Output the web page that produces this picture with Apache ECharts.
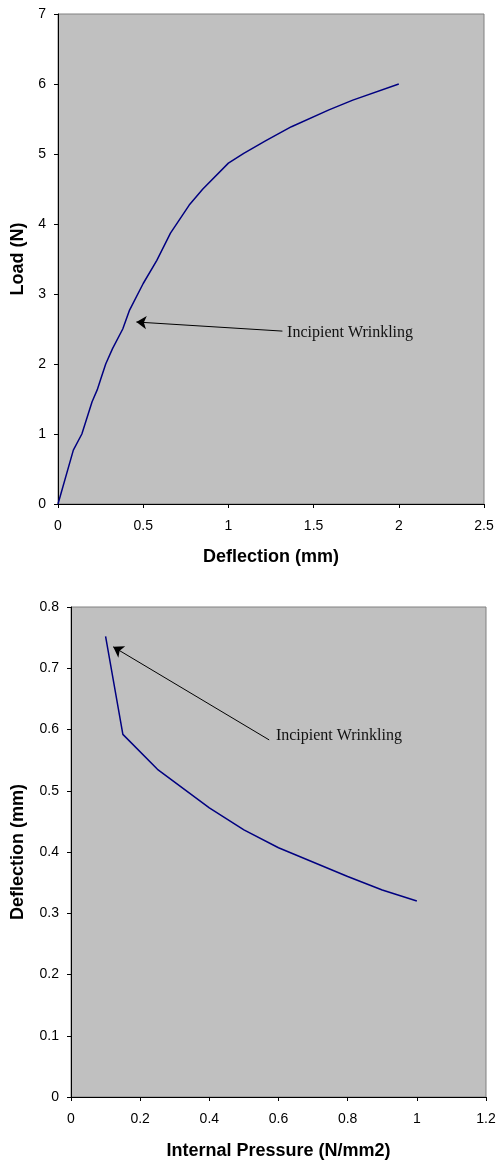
<!DOCTYPE html>
<html lang="en">
<head>
    <meta charset="UTF-8">
    <title>Load / Deflection charts</title>
    <script src="https://cdn.jsdelivr.net/npm/echarts@6.0.0/dist/echarts.min.js"></script>
    <style>
        html, body { margin: 0; padding: 0; background: #fff; }
    </style>
</head>
<body>
    <div id="myChart" style="width: 497px; height: 1162px;"></div>
    <script>
        // top chart: load vs deflection
        const topDeflection = [0, 0.09, 0.14, 0.2, 0.23, 0.25, 0.28, 0.32, 0.38, 0.42, 0.5, 0.58, 0.66, 0.77, 0.85, 1.0, 1.09, 1.22, 1.37, 1.59, 1.73, 2.0];
        const topLoad = [0, 0.77, 1.0, 1.46, 1.63, 1.78, 2.0, 2.22, 2.5, 2.77, 3.15, 3.48, 3.87, 4.27, 4.5, 4.87, 5.01, 5.19, 5.39, 5.63, 5.77, 6.0];
        const topArrow = { from: [1.317, 2.47], to: [0.46, 2.6], text: [1.315, 2.447] };

        // bottom chart: deflection vs internal pressure
        const pressure = [0.1, 0.15, 0.25, 0.4, 0.5, 0.6, 0.8, 0.9, 1.0];
        const bottomDeflection = [0.752, 0.592, 0.535, 0.472, 0.436, 0.407, 0.36, 0.338, 0.32];
        const bottomArrow = { from: [0.573, 0.583], to: [0.122, 0.735], text: [0.578, 0.59] };

        const noteText = 'Incipient Wrinkling';

        const sans = "'Liberation Sans', Arial, sans-serif";
        const serif = "'Liberation Serif', 'Times New Roman', serif";

        var myChart = echarts.init(document.getElementById('myChart'));

        function pairs(xs, ys) {
            return xs.map(function (x, i) { return [x, ys[i]]; });
        }

        function valueAxis(gridIndex, min, max, interval, name, nameGap, margin) {
            return {
                type: 'value',
                gridIndex: gridIndex,
                min: min,
                max: max,
                interval: interval,
                name: name,
                nameLocation: 'middle',
                nameGap: nameGap,
                nameTextStyle: { fontFamily: sans, fontSize: 18, fontWeight: 'bold', color: '#000' },
                axisLine: { show: true, onZero: false, lineStyle: { color: '#000', width: 1 } },
                axisTick: { show: true, inside: false, length: 4, lineStyle: { color: '#000' } },
                axisLabel: { fontFamily: sans, fontSize: 14, color: '#000', margin: margin },
                splitLine: { show: false }
            };
        }

        // arrow pointing at the onset of wrinkling
        function arrow(a) {
            return {
                silent: true,
                symbol: ['none', 'arrow'],
                symbolSize: 10,
                lineStyle: { color: '#000', width: 1, type: 'solid' },
                label: { show: false },
                data: [[{ coord: a.from }, { coord: a.to }]]
            };
        }

        // the note text next to the arrow tail
        function note(a) {
            return {
                silent: true,
                symbol: 'circle',
                symbolSize: 0,
                label: {
                    show: true,
                    position: 'right',
                    distance: 5,
                    formatter: noteText,
                    fontFamily: serif,
                    fontSize: 16,
                    color: '#111'
                },
                data: [{ coord: a.text }]
            };
        }

        option = {
            animation: false,
            backgroundColor: '#fff',
            grid: [
                { left: 58, top: 14, width: 426, height: 490, show: true, backgroundColor: '#c0c0c0', borderColor: '#808080', borderWidth: 1, outerBoundsMode: 'none' },
                { left: 71, top: 607, width: 415, height: 490, show: true, backgroundColor: '#c0c0c0', borderColor: '#808080', borderWidth: 1, outerBoundsMode: 'none' }
            ],
            xAxis: [
                valueAxis(0, 0, 2.5, 0.5, 'Deflection (mm)', 44, 15),
                valueAxis(1, 0, 1.2, 0.2, 'Internal Pressure (N/mm2)', 45, 15)
            ],
            yAxis: [
                valueAxis(0, 0, 7, 1, 'Load (N)', 30, 12),
                valueAxis(1, 0, 0.8, 0.1, 'Deflection (mm)', 44, 12)
            ],
            series: [
                {
                    type: 'line',
                    xAxisIndex: 0,
                    yAxisIndex: 0,
                    data: pairs(topDeflection, topLoad),
                    showSymbol: false,
                    lineStyle: { color: '#000080', width: 1.5 },
                    markLine: arrow(topArrow),
                    markPoint: note(topArrow)
                },
                {
                    type: 'line',
                    xAxisIndex: 1,
                    yAxisIndex: 1,
                    data: pairs(pressure, bottomDeflection),
                    showSymbol: false,
                    lineStyle: { color: '#000080', width: 1.5 },
                    markLine: arrow(bottomArrow),
                    markPoint: note(bottomArrow)
                }
            ]
        };
        myChart.setOption(option);
    </script>
</body>
</html>
